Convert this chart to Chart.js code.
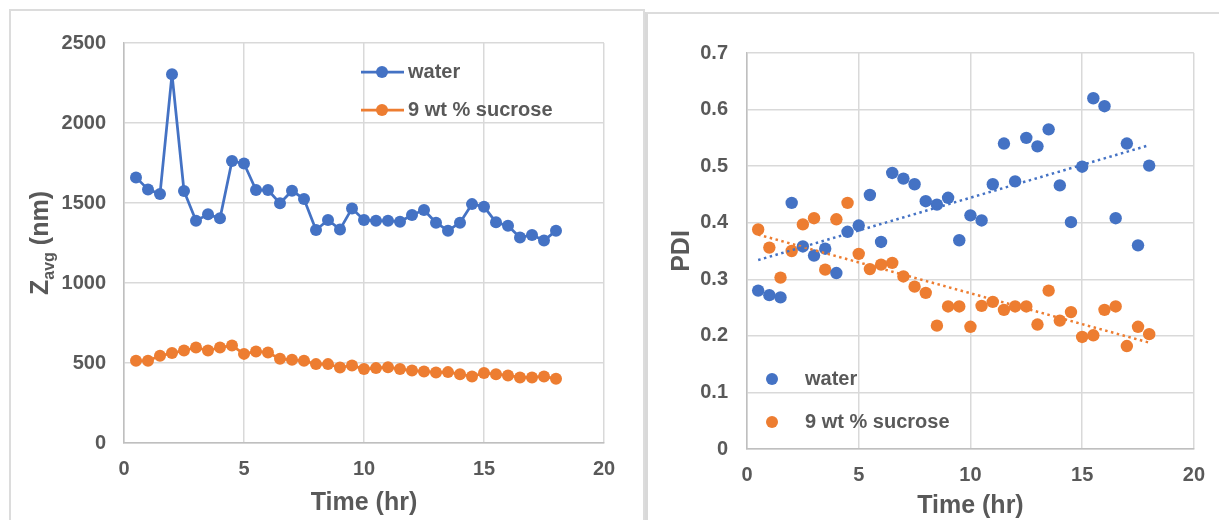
<!DOCTYPE html>
<html>
<head>
<meta charset="utf-8">
<script src="https://cdn.jsdelivr.net/npm/chart.js@4.4.1/dist/chart.umd.min.js"></script>
<style>
  body { margin: 0; background: #fff; width: 1219px; height: 520px; overflow: hidden; position: relative; }
  #panelL { position: absolute; left: 9px; top: 9px; width: 632px; height: 530px; border: 2px solid #dcdcdc; }
  #panelR { position: absolute; left: 645px; top: 12px; width: 600px; height: 530px; border-left: 3px solid #d9d9d9; border-top: 2px solid #dcdcdc; }
  canvas { position: absolute; }
</style>
</head>
<body>
<div id="panelL"></div>
<div id="panelR"></div>
<canvas id="zChart" width="632" height="510" style="left:10px;top:10px;"></canvas>
<canvas id="pdiChart" width="569" height="506" style="left:650px;top:14px;"></canvas>
<script>
// time points (hr)
var timeHr = [0.5, 1, 1.5, 2, 2.5, 3, 3.5, 4, 4.5, 5, 5.5, 6, 6.5, 7, 7.5, 8, 8.5, 9,
              9.5, 10, 10.5, 11, 11.5, 12, 12.5, 13, 13.5, 14, 14.5, 15, 15.5, 16, 16.5, 17, 17.5, 18];

// Z avg (nm)
var zWater = [1660, 1585, 1556, 2305, 1575, 1389, 1429, 1404, 1762, 1747, 1581, 1581,
              1498, 1577, 1525, 1331, 1394, 1335, 1466, 1394, 1389, 1389, 1383, 1425,
              1456, 1377, 1327, 1377, 1493, 1477, 1379, 1358, 1285, 1300, 1265, 1327];
var zSucrose = [514, 514, 545, 562, 578, 597, 578, 597, 609, 557, 572, 566,
                526, 520, 514, 493, 493, 472, 485, 462, 468, 474, 462, 453,
                447, 441, 443, 430, 416, 437, 430, 422, 410, 410, 416, 401];

// PDI
var pdiWater = [0.280, 0.272, 0.268, 0.435, 0.358, 0.342, 0.354, 0.311, 0.384, 0.395, 0.449, 0.366,
                0.488, 0.478, 0.468, 0.438, 0.432, 0.444, 0.369, 0.413, 0.404, 0.468, 0.540, 0.473,
                0.550, 0.535, 0.565, 0.466, 0.401, 0.499, 0.620, 0.606, 0.408, 0.540, 0.360, 0.501];
var pdiSucrose = [0.388, 0.356, 0.303, 0.350, 0.397, 0.408, 0.317, 0.406, 0.435, 0.345, 0.318, 0.326,
                  0.329, 0.305, 0.287, 0.276, 0.218, 0.252, 0.252, 0.216, 0.253, 0.260, 0.246, 0.252,
                  0.252, 0.220, 0.280, 0.227, 0.242, 0.198, 0.201, 0.246, 0.252, 0.182, 0.216, 0.203];

// linear trendlines (start / end)
var trendX = [0.5, 18];
var trendWater = [0.334, 0.537];
var trendSucrose = [0.379, 0.188];

// ticks
var timeTicks = [0, 5, 10, 15, 20];
var timeLabels = ['0', '5', '10', '15', '20'];
var zTicks = [0, 500, 1000, 1500, 2000, 2500];
var zLabels = ['0', '500', '1000', '1500', '2000', '2500'];
var pdiTicks = [0, 0.1, 0.2, 0.3, 0.4, 0.5, 0.6, 0.7];
var pdiLabels = ['0', '0.1', '0.2', '0.3', '0.4', '0.5', '0.6', '0.7'];

var BLUE = '#4472C4';
var ORANGE = '#ED7D31';
var TEXT = '#595959';
var FONT = "'Liberation Sans', Arial, sans-serif";

Chart.defaults.font.family = FONT;
Chart.defaults.font.weight = 'bold';
Chart.defaults.font.size = 20;
Chart.defaults.color = TEXT;

function pts(xs, ys) {
    var out = [];
    for (var i = 0; i < xs.length; i++) out.push({ x: xs[i], y: ys[i] });
    return out;
}

function xScale(padding) {
    return {
        type: 'linear', min: 0, max: 20,
        afterBuildTicks: function(s) { s.ticks = timeTicks.map(function(v) { return { value: v }; }); },
        ticks: { padding: padding, callback: function(v, i) { return timeLabels[i]; } },
        grid: { color: '#d9d9d9', lineWidth: 1.5, drawTicks: false },
        border: { color: '#bfbfbf', width: 1.5 }
    };
}

// left chart : Z avg
var zDecor = {
    id: 'zDecor',
    afterDraw: function(chart) {
        var c = chart.ctx, a = chart.chartArea;
        c.save();
        c.fillStyle = TEXT;
        c.textBaseline = 'middle';
        c.textAlign = 'center';
        c.font = 'bold 25px ' + FONT;
        c.fillText('Time (hr)', (a.left + a.right) / 2, 493);

        // y title with subscript
        c.translate(29, (a.top + a.bottom) / 2);
        c.rotate(-Math.PI / 2);
        c.textAlign = 'left';
        c.textBaseline = 'alphabetic';
        var big = 'bold 25px ' + FONT, small = 'bold 16px ' + FONT;
        c.font = big; var w1 = c.measureText('Z').width, w3 = c.measureText(' (nm)').width;
        c.font = small; var w2 = c.measureText('avg').width;
        var x0 = -(w1 + w2 + w3) / 2;
        c.font = big; c.fillText('Z', x0, 9);
        c.font = small; c.fillText('avg', x0 + w1, 15);
        c.font = big; c.fillText(' (nm)', x0 + w1 + w2, 9);
        c.restore();

        // legend
        c.save();
        var items = [['water', BLUE, 29], ['9 wt % sucrose', ORANGE, 67]];
        c.font = 'bold 20px ' + FONT;
        c.textBaseline = 'middle';
        items.forEach(function(it) {
            var cx = a.left + 258, cy = a.top + it[2];
            c.strokeStyle = it[1]; c.lineWidth = 2.75;
            c.beginPath(); c.moveTo(cx - 21, cy); c.lineTo(cx + 22, cy); c.stroke();
            c.fillStyle = it[1];
            c.beginPath(); c.arc(cx, cy, 6, 0, Math.PI * 2); c.fill();
            c.fillStyle = TEXT;
            c.fillText(it[0], cx + 26, cy);
        });
        c.restore();
    }
};

new Chart(document.getElementById('zChart'), {
    type: 'line',
    data: {
        datasets: [
            { label: 'water', data: pts(timeHr, zWater), borderColor: BLUE, backgroundColor: BLUE,
              borderWidth: 2.75, borderJoinStyle: 'round', pointRadius: 6, pointBorderWidth: 0,
              pointBackgroundColor: BLUE, tension: 0 },
            { label: '9 wt % sucrose', data: pts(timeHr, zSucrose), borderColor: ORANGE, backgroundColor: ORANGE,
              borderWidth: 2.75, borderJoinStyle: 'round', pointRadius: 6, pointBorderWidth: 0,
              pointBackgroundColor: ORANGE, tension: 0 }
        ]
    },
    options: {
        responsive: false, animation: false,
        layout: { padding: { top: 33, right: 38, left: 0, bottom: 0 } },
        plugins: { legend: { display: false }, tooltip: { enabled: false } },
        scales: {
            x: Object.assign(xScale(14), { afterFit: function(s) { s.height = 77; } }),
            y: {
                type: 'linear', min: 0, max: 2500,
                afterBuildTicks: function(s) { s.ticks = zTicks.map(function(v) { return { value: v }; }); },
                afterFit: function(s) { s.width = 114; },
                ticks: { padding: 18, callback: function(v, i) { return zLabels[i]; } },
                grid: { color: '#d9d9d9', lineWidth: 1.5, drawTicks: false },
                border: { color: '#bfbfbf', width: 1.5 }
            }
        }
    },
    plugins: [zDecor]
});

// right chart : PDI
var pdiDecor = {
    id: 'pdiDecor',
    afterDraw: function(chart) {
        var c = chart.ctx, a = chart.chartArea;
        c.save();
        c.fillStyle = TEXT;
        c.textBaseline = 'middle';
        c.textAlign = 'center';
        c.font = 'bold 25px ' + FONT;
        c.fillText('Time (hr)', (a.left + a.right) / 2, 492);
        c.translate(32, (a.top + a.bottom) / 2);
        c.rotate(-Math.PI / 2);
        c.fillText('PDI', 0, 0);
        c.restore();

        c.save();
        c.font = 'bold 20px ' + FONT;
        c.textBaseline = 'middle';
        var items = [['water', BLUE, 326], ['9 wt % sucrose', ORANGE, 369]];
        items.forEach(function(it) {
            var cx = a.left + 25, cy = a.top + it[2];
            c.fillStyle = it[1];
            c.beginPath(); c.arc(cx, cy, 6, 0, Math.PI * 2); c.fill();
            c.fillStyle = TEXT;
            c.fillText(it[0], cx + 33, cy);
        });
        c.restore();
    }
};

new Chart(document.getElementById('pdiChart'), {
    type: 'scatter',
    data: {
        datasets: [
            { label: 'water trend', data: pts(trendX, trendWater), showLine: true, borderColor: BLUE,
              borderWidth: 2.5, borderDash: [2.5, 3.5], pointRadius: 0, order: 0 },
            { label: 'sucrose trend', data: pts(trendX, trendSucrose), showLine: true, borderColor: ORANGE,
              borderWidth: 2.5, borderDash: [2.5, 3.5], pointRadius: 0, order: 0 },
            { label: 'water', data: pts(timeHr, pdiWater), pointRadius: 6.2, pointBorderWidth: 0,
              pointBackgroundColor: BLUE, backgroundColor: BLUE, order: 1 },
            { label: '9 wt % sucrose', data: pts(timeHr, pdiSucrose), pointRadius: 6.2, pointBorderWidth: 0,
              pointBackgroundColor: ORANGE, backgroundColor: ORANGE, order: 2 }
        ]
    },
    options: {
        responsive: false, animation: false,
        layout: { padding: { top: 39, right: 21, left: 0, bottom: 0 } },
        plugins: { legend: { display: false }, tooltip: { enabled: false } },
        scales: {
            x: Object.assign(xScale(14), { afterFit: function(s) { s.height = 71; } }),
            y: {
                type: 'linear', min: 0, max: 0.7,
                afterBuildTicks: function(s) { s.ticks = pdiTicks.map(function(v) { return { value: v }; }); },
                afterFit: function(s) { s.width = 97; },
                ticks: { padding: 19, callback: function(v, i) { return pdiLabels[i]; } },
                grid: { color: '#d9d9d9', lineWidth: 1.5, drawTicks: false },
                border: { color: '#bfbfbf', width: 1.5 }
            }
        }
    },
    plugins: [pdiDecor]
});
</script>
</body>
</html>
